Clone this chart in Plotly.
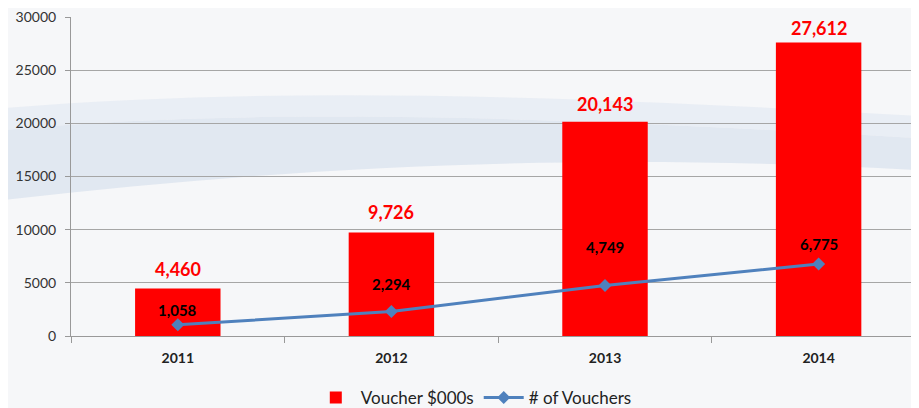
import plotly.graph_objects as go

years = ["2011", "2012", "2013", "2014"]
voucher_value = [4460, 9726, 20143, 27612]
voucher_count = [1058, 2294, 4749, 6775]

# label offsets above the marks, in px (labels were hand placed in the source)
bar_label_shift = [20, 21, 18, 14]
line_label_shift = [15, 28, 39, 20]

fig = go.Figure()

# soft swoosh in the background
fig.add_shape(
    type="path", xref="paper", yref="paper", layer="below", line_width=0,
    fillcolor="rgba(200,212,230,0.45)",
    path="M -0.1 0.64 C 0.2 0.72, 0.55 0.69, 1.0 0.62 L 1.0 0.52 C 0.6 0.58, 0.25 0.53, -0.1 0.42 Z",
)
fig.add_shape(
    type="path", xref="paper", yref="paper", layer="below", line_width=0,
    fillcolor="rgba(225,232,242,0.6)",
    path="M -0.1 0.71 C 0.25 0.79, 0.6 0.75, 1.0 0.69 L 1.0 0.62 C 0.55 0.69, 0.2 0.72, -0.1 0.64 Z",
)

fig.add_trace(
    go.Bar(
        x=years,
        y=voucher_value,
        name="Voucher $000s",
        marker=dict(color="#FF0000", line=dict(width=0)),
        width=0.4,
    )
)
fig.add_trace(
    go.Scatter(
        x=years,
        y=voucher_count,
        name="# of Vouchers",
        mode="lines+markers",
        line=dict(color="#4F81BD", width=3),
        marker=dict(symbol="diamond", size=10, color="#4F81BD"),
    )
)

for i, (v, s) in enumerate(zip(voucher_value, bar_label_shift)):
    fig.add_annotation(
        x=i, y=v, text=f"<b>{v:,}</b>", showarrow=False, yshift=s,
        font=dict(family="Lato", size=18, color="#FF0000"),
    )
for i, (v, s) in enumerate(zip(voucher_count, line_label_shift)):
    fig.add_annotation(
        x=i, y=v, text=f"<b>{v:,}</b>", showarrow=False, yshift=s,
        font=dict(family="Lato", size=15, color="#000000"),
    )

# the page body adds an 8px offset, so the figure is 8px smaller each way
fig.update_layout(
    width=911,
    height=400,
    margin=dict(l=63, r=0, t=9, b=72),
    paper_bgcolor="#F6F7F9",
    plot_bgcolor="rgba(0,0,0,0)",
    font=dict(family="Lato", size=14, color="#333333"),
    showlegend=True,
    legend=dict(
        orientation="h", x=0.475, xanchor="center",
        yref="container", y=0.025, yanchor="middle",
        itemwidth=40,
        font=dict(size=17, color="#222222"), bgcolor="rgba(0,0,0,0)",
    ),
    bargap=0.6,
)
fig.update_xaxes(
    type="category", automargin=False,
    range=[-0.5, 3.47],
    showline=True, linecolor="#999999", linewidth=1,
    ticks="outside", tickson="boundaries", tickcolor="#999999", ticklen=6,
    ticklabelstandoff=9,
    tickfont=dict(size=14, color="#222222", weight="bold"),
    showgrid=False,
)
fig.update_yaxes(
    automargin=False, ticklabeloverflow="allow",
    range=[0, 30000], dtick=5000,
    showline=True, linecolor="#999999", linewidth=1,
    ticks="outside", tickcolor="#999999", ticklen=5,
    ticklabelstandoff=6,
    gridcolor="#A6A6A6", gridwidth=1,
    tickfont=dict(size=14, color="#333333"),
    zeroline=False,
    showexponent="none", tickformat="d",
)

fig.write_html("out.html")
